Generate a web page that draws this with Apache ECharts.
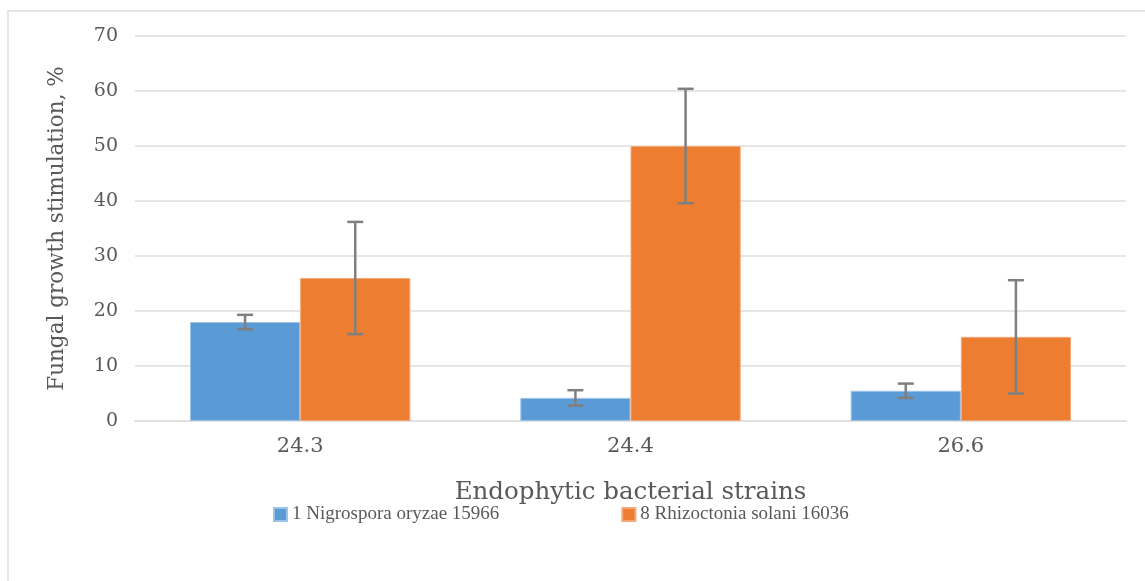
<!DOCTYPE html>
<html>
<head>
<meta charset="utf-8">
<script src="https://cdn.jsdelivr.net/npm/echarts@6/dist/echarts.min.js"></script>
<style>html,body{margin:0;padding:0;background:#fff}#c{width:1145px;height:581px}</style>
</head>
<body>
<div id="c"></div>
<script>
const categories = ['24.3', '24.4', '26.6'];
const seriesNames = ['1 Nigrospora oryzae 15966', '8 Rhizoctonia solani 16036'];
const nigrospora = [18.0, 4.2, 5.5];
const nigrosporaErr = [1.3, 1.4, 1.3];
const rhizoctonia = [26.0, 50.0, 15.3];
const rhizoctoniaErr = [10.2, 10.4, 10.3];
const yTicks = [0, 10, 20, 30, 40, 50, 60, 70];

const colors = ['#5B9BD5', '#ED7D31'];
const font = 'DejaVu Serif';
const legendFont = 'Liberation Serif';
const catGap = 0.333;

function errSeries(vals, errs, sideIdx) {
  return {
    type: 'custom',
    silent: true,
    z: 5,
    data: vals.map((v, i) => [i, v, errs[i]]),
    renderItem: function (params, api) {
      const i = api.value(0), v = api.value(1), e = api.value(2);
      const catW = api.size([1, 0])[0];
      const barW = catW * (1 - catGap) / 2;
      const base = api.coord([i, v]);
      const x = base[0] + (sideIdx === 0 ? -barW / 2 : barW / 2);
      const hi = api.coord([i, v + e])[1];
      const lo = api.coord([i, v - e])[1];
      const cap = 8;
      const st = { stroke: '#7f7f7f', lineWidth: 2.5 };
      return {
        type: 'group',
        children: [
          { type: 'line', shape: { x1: x, y1: hi, x2: x, y2: lo }, style: st },
          { type: 'line', shape: { x1: x - cap, y1: hi, x2: x + cap, y2: hi }, style: st },
          { type: 'line', shape: { x1: x - cap, y1: lo, x2: x + cap, y2: lo }, style: st }
        ]
      };
    }
  };
}

const chart = echarts.init(document.getElementById('c'), null, { renderer: 'canvas' });
chart.setOption({
  animation: false,
  color: colors,
  textStyle: { fontFamily: font },
  graphic: [{
    type: 'rect', shape: { x: 8, y: 11, width: 1150, height: 600 },
    style: { fill: 'none', stroke: '#e6e6e6', lineWidth: 2 }, silent: true, z: -10
  }],
  grid: { left: 135, right: 19, top: 36, bottom: 160, containLabel: false },
  legend: {
    data: seriesNames,
    bottom: 52,
    left: 268,
    itemWidth: 13, itemHeight: 13, itemGap: 122,
    icon: 'rect',
    textStyle: { fontFamily: legendFont, fontSize: 19, color: '#595959' }
  },
  xAxis: {
    type: 'category',
    data: categories,
    name: 'Endophytic bacterial strains',
    nameLocation: 'middle',
    nameGap: 59,
    nameTextStyle: { fontFamily: font, fontSize: 24.5, color: '#595959' },
    axisLine: { lineStyle: { color: '#e0e0e0', width: 2 } },
    axisTick: { show: false },
    axisLabel: { fontFamily: font, fontSize: 21, color: '#595959', margin: 15 }
  },
  yAxis: {
    type: 'value',
    min: 0, max: 70, interval: 10,
    name: 'Fungal growth stimulation, %',
    nameLocation: 'middle',
    nameGap: 67,
    nameTextStyle: { fontFamily: font, fontSize: 21.5, color: '#595959' },
    axisLine: { show: false },
    axisTick: { show: false },
    axisLabel: { fontFamily: font, fontSize: 19, color: '#595959', margin: 17,
      formatter: v => yTicks.includes(v) ? String(v) : '' },
    splitLine: { lineStyle: { color: '#e6e6e6', width: 2 } }
  },
  series: [
    { name: seriesNames[0], type: 'bar', data: nigrospora, barGap: '0%', barCategoryGap: (catGap * 100) + '%',
      itemStyle: { color: colors[0], borderColor: '#9cc3e8', borderWidth: 1 } },
    { name: seriesNames[1], type: 'bar', data: rhizoctonia, barGap: '0%', barCategoryGap: (catGap * 100) + '%',
      itemStyle: { color: colors[1], borderColor: '#f4a878', borderWidth: 1 } },
    errSeries(nigrospora, nigrosporaErr, 0),
    errSeries(rhizoctonia, rhizoctoniaErr, 1)
  ]
});
</script>
</body>
</html>
